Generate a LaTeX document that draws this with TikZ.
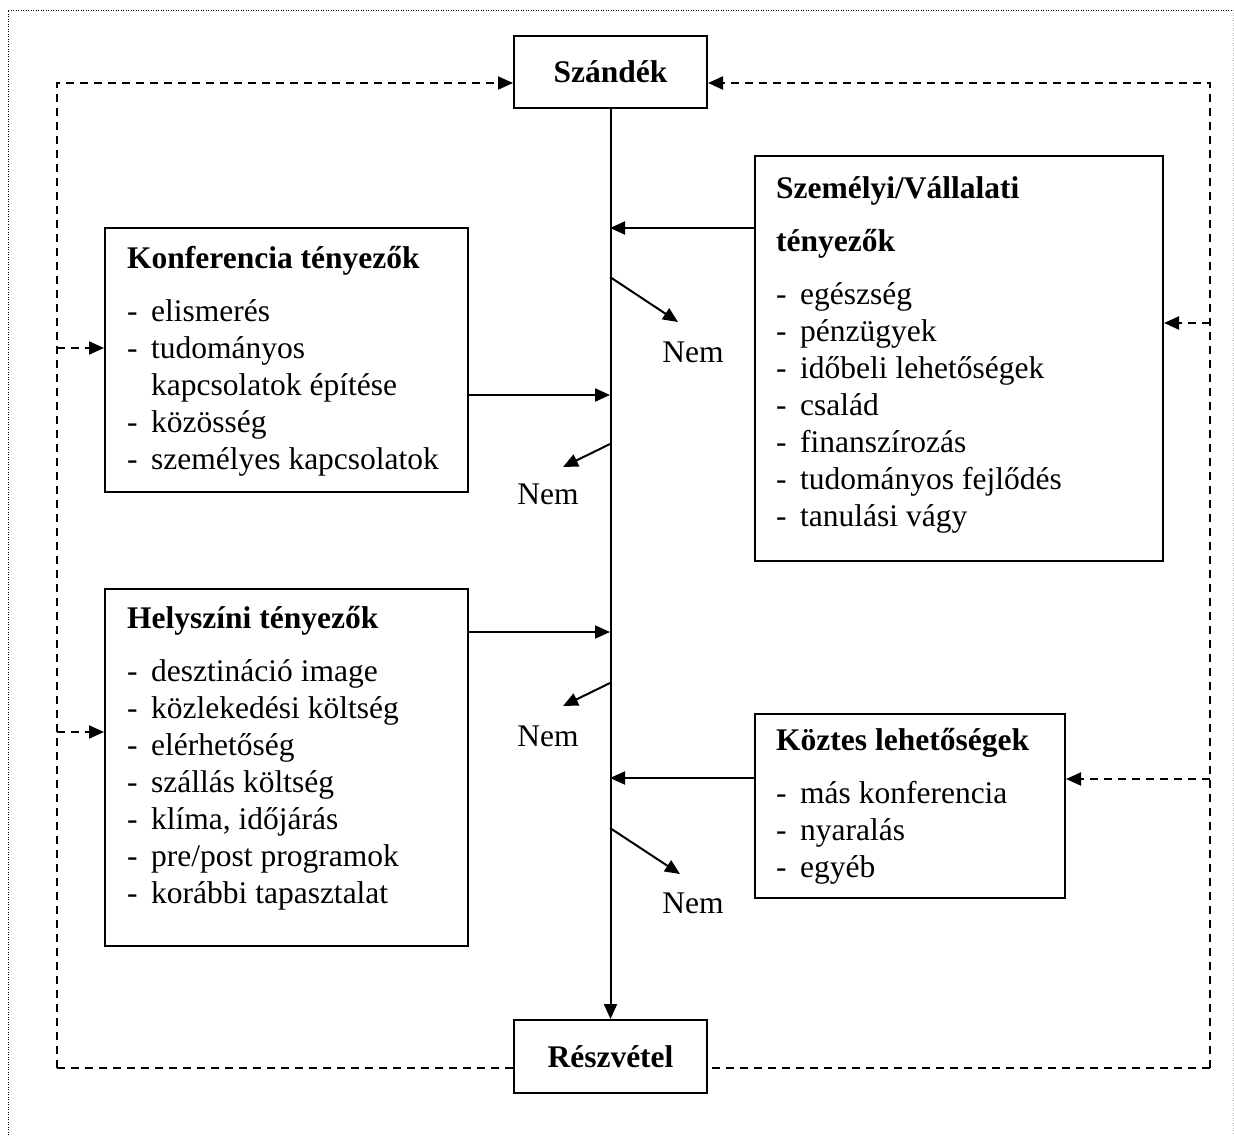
\documentclass[tikz,border=0pt]{standalone}
\usepackage{fontspec}
\setmainfont{Liberation Serif}
\usetikzlibrary{arrows.meta,calc}
\newcommand\itm{\makebox[24pt][l]{-}}
\newcommand\ind{\hspace*{24pt}}
\tikzset{
  box/.style={draw, line width=2pt, inner sep=0pt, anchor=north west},
  txt/.style={anchor=base west, inner sep=0pt},
  ln/.style={line width=2pt},
  tip/.style={-{Triangle[length=15pt,width=13pt]}},
  dsh/.style={line width=2pt, dash pattern=on 8pt off 6pt},
  outer/.style={line width=1pt, dash pattern=on 1pt off 1.5pt},
}
\begin{document}
\begin{tikzpicture}[x=1pt,y=-1pt,font=\fontsize{31.5}{37}\selectfont]
\useasboundingbox (0,0) rectangle (1234,1135);
% outer dotted frame
\draw[outer] (8,1135) -- (8,10) -- (1233,10);
\draw[outer, gray!50] (1233,10) -- (1233,1135);

% main boxes
\node[box, minimum width=193, minimum height=72, font=\fontsize{31.5}{37}\selectfont\bfseries] (sz) at (513,35) {Szándék};
\node[box, minimum width=193, minimum height=73, font=\fontsize{31.5}{37}\selectfont\bfseries] (rv) at (513,1019) {Részvétel};

\node[box, minimum width=363, minimum height=264] (konf) at (104,227) {};
\node[box, minimum width=363, minimum height=357] (hely) at (104,588) {};
\node[box, minimum width=408, minimum height=405] (szem) at (754,155) {};
\node[box, minimum width=310, minimum height=184] (kozt) at (754,713) {};

% box texts
\node[txt] (konft) at (127,268) {\begin{tabular}[t]{@{}l@{}}
\textbf{Konferencia tényezők}\\[16pt]
\itm elismerés\\
\itm tudományos\\
\ind kapcsolatok építése\\
\itm közösség\\
\itm személyes kapcsolatok
\end{tabular}};

\node[txt] (helyt) at (127,628) {\begin{tabular}[t]{@{}l@{}}
\textbf{Helyszíni tényezők}\\[16pt]
\itm desztináció image\\
\itm közlekedési költség\\
\itm elérhetőség\\
\itm szállás költség\\
\itm klíma, időjárás\\
\itm pre/post programok\\
\itm korábbi tapasztalat
\end{tabular}};

\node[txt] (szemt) at (776,198) {\begin{tabular}[t]{@{}l@{}}
\textbf{Személyi/Vállalati}\\[16pt]
\textbf{tényezők}\\[16pt]
\itm egészség\\
\itm pénzügyek\\
\itm időbeli lehetőségek\\
\itm család\\
\itm finanszírozás\\
\itm tudományos fejlődés\\
\itm tanulási vágy
\end{tabular}};

\node[txt] (koztt) at (776,750) {\begin{tabular}[t]{@{}l@{}}
\textbf{Köztes lehetőségek}\\[16pt]
\itm más konferencia\\
\itm nyaralás\\
\itm egyéb
\end{tabular}};

% main vertical flow
\draw[ln, tip] (sz.south) -- (rv.north);

% junctions on the vertical line
\coordinate (j1) at (610,228);
\coordinate (j2) at (610,395);
\coordinate (j3) at (610,632);
\coordinate (j4) at (610,778);
\draw[ln, tip] (szem.west |- j1) -- (j1);
\draw[ln, tip] (konf.east |- j2) -- (j2);
\draw[ln, tip] (hely.east |- j3) -- (j3);
\draw[ln, tip] (kozt.west |- j4) -- (j4);

% Nem branches
\coordinate (n1s) at (610,277); \coordinate (n1e) at (678,322);
\coordinate (n2s) at (610,444); \coordinate (n2e) at (563,467);
\coordinate (n3s) at (610,683); \coordinate (n3e) at (563,706);
\coordinate (n4s) at (610,828); \coordinate (n4e) at (680,874);
\draw[ln, tip] (n1s) -- (n1e);
\draw[ln, tip] (n2s) -- (n2e);
\draw[ln, tip] (n3s) -- (n3e);
\draw[ln, tip] (n4s) -- (n4e);
\node[inner sep=0pt] (nem1) at (693,352) {Nem};
\node[inner sep=0pt] (nem2) at (548,494) {Nem};
\node[inner sep=0pt] (nem3) at (548,736) {Nem};
\node[inner sep=0pt] (nem4) at (693,903) {Nem};

% dashed feedback loop
\coordinate (lt) at (57,83);
\coordinate (lb) at (57,1068);
\coordinate (rt) at (1210,83);
\coordinate (rb) at (1210,1068);
\coordinate (lk) at (57,348);
\coordinate (lh) at (57,732);
\coordinate (rs) at (1210,323);
\coordinate (rk) at (1210,779);
\draw[dsh, tip] (lb) -- (lt) -- (sz.west |- lt);
\draw[dsh] (lb) -- (rv.west |- lb);
\draw[dsh, tip] (rb) -- (rt) -- (sz.east |- rt);
\draw[dsh] (rb) -- (rv.east |- rb);
\draw[dsh, tip] (lk) -- (konf.west |- lk);
\draw[dsh, tip] (lh) -- (hely.west |- lh);
\draw[dsh, tip] (rs) -- (szem.east |- rs);
\draw[dsh, tip] (rk) -- (kozt.east |- rk);
\end{tikzpicture}
\end{document}
